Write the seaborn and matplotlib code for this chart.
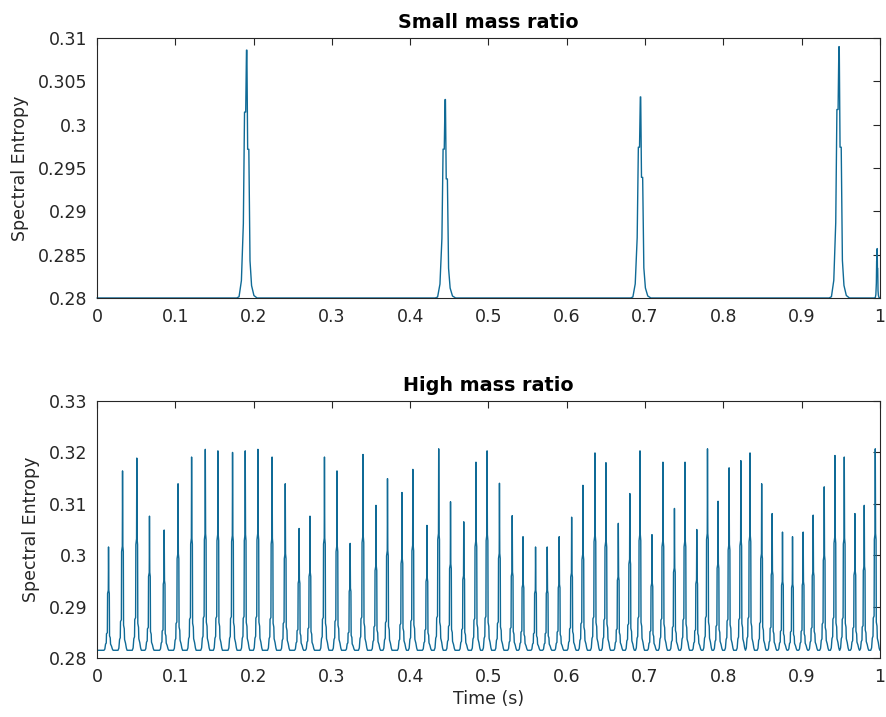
import numpy as np
import pandas as pd
import matplotlib
matplotlib.use("Agg")
import matplotlib.pyplot as plt
from matplotlib.ticker import FuncFormatter
import seaborn as sns

# ---------- DATA ----------

# upper panel: "Small mass ratio" -- isolated bursts on a flat 0.28 floor
TOP_BASE = 0.28
TOP_PEAK_T = [0.1914, 0.4450, 0.6944, 0.9480, 0.9965]
TOP_PEAK_H = [0.3086, 0.3029, 0.3032, 0.3090, 0.2857]
TOP_PEAK_W = [1.0, 1.0, 1.0, 1.0, 0.25]
# shape of one burst: time offset (s) and fraction of the peak height
TOP_SHAPE_DT = [-0.013, -0.010, -0.007, -0.0045, -0.003, -0.0015, -0.0005,
                0.0, 0.001, 0.0025, 0.004, 0.006, 0.009, 0.013]
TOP_SHAPE_F = [0.0, 0.005, 0.07, 0.30, 0.75, 0.75, 1.0,
               1.0, 0.60, 0.60, 0.15, 0.05, 0.01, 0.0]

# lower panel: "High mass ratio" -- dense train of spikes
LOW_VALLEY = 0.2815
LOW_PEAK_T = [0.0147, 0.0326, 0.0508, 0.0670, 0.0858, 0.1035, 0.1208, 0.1383,
              0.1544, 0.1731, 0.1893, 0.2055, 0.2236, 0.2404, 0.2581, 0.2720,
              0.2905, 0.3065, 0.3233, 0.3397, 0.3563, 0.3710, 0.3895, 0.4034,
              0.4214, 0.4364, 0.4515, 0.4684, 0.4840, 0.4982, 0.5140, 0.5303,
              0.5441, 0.5601, 0.5750, 0.5903, 0.6062, 0.6206, 0.6360, 0.6500,
              0.6658, 0.6805, 0.6935, 0.7088, 0.7228, 0.7375, 0.7510, 0.7660,
              0.7797, 0.7932, 0.8073, 0.8223, 0.8340, 0.8489, 0.8623, 0.8755,
              0.8883, 0.9019, 0.9147, 0.9288, 0.9425, 0.9544, 0.9680, 0.9799,
              0.9940]
LOW_PEAK_H = [0.3016, 0.3164, 0.3189, 0.3076, 0.3049, 0.3139, 0.3191, 0.3206,
              0.3203, 0.3200, 0.3203, 0.3206, 0.3191, 0.3139, 0.3052, 0.3076,
              0.3191, 0.3164, 0.3023, 0.3196, 0.3097, 0.3149, 0.3122, 0.3167,
              0.3058, 0.3207, 0.3104, 0.3065, 0.3181, 0.3203, 0.3140, 0.3077,
              0.3036, 0.3016, 0.3016, 0.3036, 0.3074, 0.3136, 0.3199, 0.3180,
              0.3062, 0.3120, 0.3203, 0.3040, 0.3181, 0.3091, 0.3181, 0.3050,
              0.3207, 0.3105, 0.3170, 0.3184, 0.3199, 0.3139, 0.3081, 0.3045,
              0.3036, 0.3045, 0.3078, 0.3133, 0.3194, 0.3191, 0.3081, 0.3097,
              0.3207]
LOW_SHAPE_DT = [-0.0058, -0.0047, -0.0038, -0.0029, -0.0026, -0.0015, -0.0012,
                -0.0003, 0.0, 0.0004, 0.0010, 0.0013, 0.0022, 0.0026, 0.0038,
                0.0049, 0.0058]
LOW_SHAPE_F = [0.0, 0.012, 0.06, 0.07, 0.16, 0.17, 0.55,
               0.58, 1.0, 0.58, 0.55, 0.14, 0.12, 0.06, 0.04,
               0.012, 0.0]

TOP_YTICKS = [0.28, 0.285, 0.29, 0.295, 0.30, 0.305, 0.31]
LOW_YTICKS = [0.28, 0.29, 0.30, 0.31, 0.32, 0.33]
XTICKS = [0, 0.1, 0.2, 0.3, 0.4, 0.5, 0.6, 0.7, 0.8, 0.9, 1.0]

# ---------- STYLE ----------
LINE_COLOR = "#0f6a96"
AX_COLOR = "#262626"
FONT_SIZE = 12.5

sns.set_style("white")
plt.rcParams["font.family"] = ["DejaVu Sans"]
plt.rcParams["axes.edgecolor"] = AX_COLOR
plt.rcParams["axes.linewidth"] = 0.8


def build_trace(peak_t, peak_h, base, shape_dt, shape_f, widths=None, t_end=None):
    """Chain the peak shapes into one time series."""
    if widths is None:
        widths = [1.0] * len(peak_t)
    ts, vs = [0.0], [base]
    for t0, h, w in zip(peak_t, peak_h, widths):
        ts.extend(t0 + w * d for d in shape_dt)
        vs.extend(base + f * (h - base) for f in shape_f)
    if t_end is not None:
        ts.append(t_end)
        vs.append(base)
    return pd.DataFrame({"time": ts, "entropy": vs})


def style_axes(ax, yticks, title):
    ax.set_xlim(0, 1)
    ax.set_ylim(yticks[0], yticks[-1])
    ax.set_xticks(XTICKS)
    ax.set_yticks(yticks)
    fmt = FuncFormatter(lambda v, _: f"{v:g}")
    ax.xaxis.set_major_formatter(fmt)
    ax.yaxis.set_major_formatter(fmt)
    ax.tick_params(direction="in", top=True, right=True, length=5, width=0.8,
                   color=AX_COLOR, labelcolor=AX_COLOR, labelsize=FONT_SIZE, pad=7)
    for sp in ax.spines.values():
        sp.set_visible(True)
        sp.set_color(AX_COLOR)
    ax.set_title(title, fontsize=FONT_SIZE * 1.1, fontweight="bold", color="black", pad=7)
    ax.set_ylabel("Spectral Entropy", fontsize=FONT_SIZE, color=AX_COLOR, labelpad=6)
    ax.set_xlabel("")


def main():
    fig = plt.figure(figsize=(8.86, 7.17), dpi=100)
    ax_top = fig.add_axes([0.1095, 0.5844, 0.8837, 0.3626])
    ax_low = fig.add_axes([0.1095, 0.0823, 0.8837, 0.3584])

    top = build_trace(TOP_PEAK_T, TOP_PEAK_H, TOP_BASE, TOP_SHAPE_DT, TOP_SHAPE_F,
                      widths=TOP_PEAK_W, t_end=1.0)
    low = build_trace(LOW_PEAK_T, LOW_PEAK_H, LOW_VALLEY, LOW_SHAPE_DT, LOW_SHAPE_F)

    sns.lineplot(data=top, x="time", y="entropy", ax=ax_top, color=LINE_COLOR,
                 linewidth=1.0, estimator=None, sort=False, clip_on=False)
    sns.lineplot(data=low, x="time", y="entropy", ax=ax_low, color=LINE_COLOR,
                 linewidth=1.0, estimator=None, sort=False)

    style_axes(ax_top, TOP_YTICKS, "Small mass ratio")
    style_axes(ax_low, LOW_YTICKS, "High mass ratio")
    ax_low.set_xlabel("Time (s)", fontsize=FONT_SIZE, color=AX_COLOR, labelpad=3)

    fig.savefig("out.png", dpi=100, facecolor="white")
    plt.close(fig)


if __name__ == "__main__":
    main()
